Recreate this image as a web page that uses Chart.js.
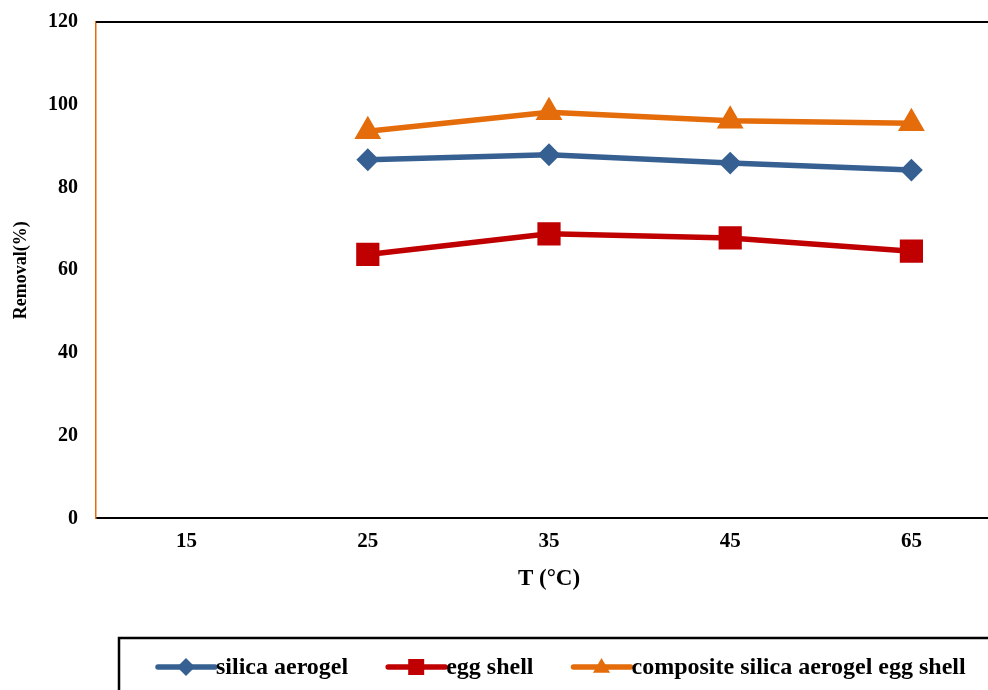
<!DOCTYPE html>
<html>
<head>
<meta charset="utf-8">
<script src="https://cdn.jsdelivr.net/npm/chart.js@4.4.1/dist/chart.umd.min.js"></script>
<style>
    html, body { margin: 0; padding: 0; background: #fff; overflow: hidden; }
    #wrap { position: relative; width: 1019px; height: 690px; }
</style>
</head>
<body>
<div id="wrap"><canvas id="removalChart"></canvas></div>
<script>
// Data
const temps = ['15', '25', '35', '45', '65'];
const silicaAerogel = [null, 86.7, 87.9, 85.9, 84.2];
const eggShell = [null, 63.8, 68.8, 67.8, 64.6];
const compositeAerogelEgg = [null, 93.6, 98.2, 96.1, 95.5];
const yTicks = [0, 20, 40, 60, 80, 100, 120];

const BLUE = '#376092';
const RED = '#C00000';
const ORANGE = '#E46C0A';
const FONT = "'Times New Roman', 'Liberation Serif', serif";

Chart.defaults.font.family = FONT;
Chart.defaults.color = '#000';

// frame line on top of the plot area
const topFrame = {
    id: 'topFrame',
    beforeDatasetsDraw(chart) {
        const { ctx, chartArea } = chart;
        ctx.save();
        ctx.strokeStyle = '#000';
        ctx.lineWidth = 2;
        ctx.beginPath();
        ctx.moveTo(chartArea.left, chartArea.top);
        ctx.lineTo(chartArea.right + 10, chartArea.top);
        ctx.stroke();
        ctx.restore();
    }
};

function drawMarker(ctx, style, x, y, r) {
    ctx.beginPath();
    if (style === 'rectRot') {
        ctx.moveTo(x - r, y);
        ctx.lineTo(x, y - r);
        ctx.lineTo(x + r, y);
        ctx.lineTo(x, y + r);
    } else if (style === 'rect') {
        ctx.rect(x - r, y - r, 2 * r, 2 * r);
    } else {
        ctx.moveTo(x, y - r);
        ctx.lineTo(x + r * 0.95, y + r * 0.65);
        ctx.lineTo(x - r * 0.95, y + r * 0.65);
    }
    ctx.closePath();
    ctx.fill();
}

// boxed legend under the chart, line + marker + label
const boxLegend = {
    id: 'boxLegend',
    afterDraw(chart) {
        const { ctx } = chart;
        ctx.save();
        ctx.strokeStyle = '#000';
        ctx.lineWidth = 2.5;
        ctx.strokeRect(119, 638, 1000, 100);

        ctx.font = 'bold 24px ' + FONT;
        ctx.textBaseline = 'middle';
        ctx.textAlign = 'left';
        let x = 158;
        const y = 667;
        chart.data.datasets.forEach(ds => {
            ctx.strokeStyle = ds.borderColor;
            ctx.fillStyle = ds.borderColor;
            ctx.lineWidth = 5.5;
            ctx.lineCap = 'round';
            ctx.beginPath();
            ctx.moveTo(x, y);
            ctx.lineTo(x + 57, y);
            ctx.stroke();
            const r = ds.pointStyle === 'rect' ? 8 : 9;
            drawMarker(ctx, ds.pointStyle, x + 28, y, r);
            ctx.fillStyle = '#000';
            ctx.fillText(ds.label, x + 58, y + 1);
            x += 58 + ctx.measureText(ds.label).width + 40;
        });
        ctx.restore();
    }
};

const ctx = document.getElementById('removalChart').getContext('2d');
const removalChart = new Chart(ctx, {
    type: 'line',
    data: {
        labels: temps,
        datasets: [
            {
                label: 'silica aerogel',
                data: silicaAerogel,
                borderColor: BLUE,
                backgroundColor: BLUE,
                borderWidth: 5.5,
                pointStyle: 'rectRot',
                pointRadius: 10,
                pointBorderWidth: 2,
                tension: 0
            },
            {
                label: 'egg shell',
                data: eggShell,
                borderColor: RED,
                backgroundColor: RED,
                borderWidth: 5.5,
                pointStyle: 'rect',
                pointRadius: 15,
                pointBorderWidth: 2,
                tension: 0
            },
            {
                label: 'composite silica aerogel egg shell',
                data: compositeAerogelEgg,
                borderColor: ORANGE,
                backgroundColor: ORANGE,
                borderWidth: 5.5,
                pointStyle: 'triangle',
                pointRadius: 13.5,
                pointBorderWidth: 2,
                tension: 0
            }
        ]
    },
    options: {
        responsive: true,
        maintainAspectRatio: false,
        animation: false,
        layout: {
            padding: { left: 0, top: 22, right: 8, bottom: 97 }
        },
        plugins: {
            legend: { display: false },
            tooltip: { enabled: false }
        },
        scales: {
            x: {
                offset: true,
                grid: { display: false, drawTicks: false },
                border: { color: '#000', width: 2 },
                ticks: {
                    padding: 13,
                    font: { size: 21, weight: 'bold', lineHeight: 1.0 }
                },
                title: {
                    display: true,
                    text: 'T (°C)',
                    padding: { top: 0, bottom: 0 },
                    font: { size: 23, weight: 'bold' }
                }
            },
            y: {
                min: 0,
                max: 120,
                afterBuildTicks: scale => {
                    scale.ticks = yTicks.map(v => ({ value: v }));
                },
                afterFit: scale => {
                    scale.width = 96;
                    scale.paddingTop = 0;
                    scale.paddingBottom = 0;
                },
                grid: { display: false, drawTicks: false },
                border: { color: ORANGE, width: 1.5 },
                ticks: {
                    padding: 18,
                    font: { size: 20, weight: 'bold' }
                },
                title: {
                    display: true,
                    text: 'Removal(%)',
                    padding: { top: 11, bottom: 0 },
                    font: { size: 18, weight: 'bold' }
                }
            }
        }
    },
    plugins: [topFrame, boxLegend]
});
</script>
</body>
</html>
